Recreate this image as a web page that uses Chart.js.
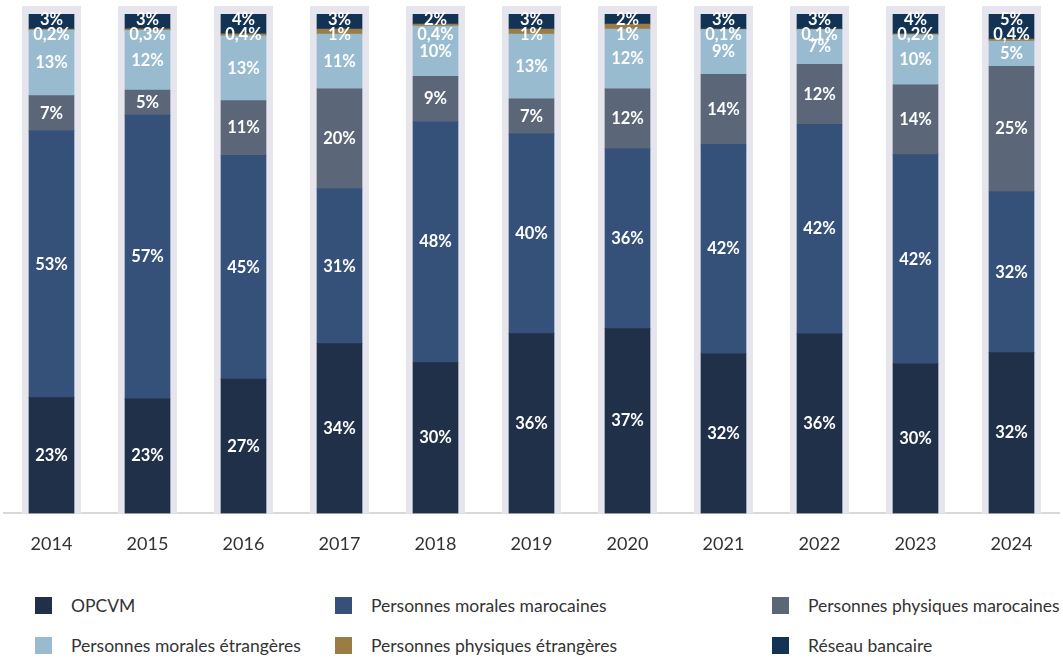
<!DOCTYPE html>
<html>
<head>
<meta charset="utf-8">
<script src="https://cdn.jsdelivr.net/npm/chart.js@4"></script>
<style>
body { margin: 0; background: #fff; font-family: Lato, sans-serif; }
#wrap { position: relative; width: 1063px; height: 660px; }
#chart-box { position: absolute; left: 0; top: 0; width: 1063px; height: 575px; }
#legend { position: absolute; left: 35px; top: 597px; display: grid; grid-template-columns: 300px 437px auto; row-gap: 23px; }
.item { display: flex; align-items: center; height: 17px; font-size: 17.5px; color: #333; white-space: nowrap; }
.item .box { width: 17px; height: 17px; margin-right: 19px; flex: none; }
</style>
</head>
<body>
<div id="wrap">
    <div id="chart-box"><canvas id="repartitionChart"></canvas></div>
    <div id="legend"></div>
</div>
<script>
const years = ['2014', '2015', '2016', '2017', '2018', '2019', '2020', '2021', '2022', '2023', '2024'];

const opcvm = [23, 23, 27, 34, 30, 36, 37, 32, 36, 30, 32];
const moralesMarocaines = [53, 57, 45, 31, 48, 40, 36, 42, 42, 42, 32];
const physiquesMarocaines = [7, 5, 11, 20, 9, 7, 12, 14, 12, 14, 25];
const moralesEtrangeres = [13, 12, 13, 11, 10, 13, 12, 9, 7, 10, 5];
const physiquesEtrangeres = [0.2, 0.3, 0.4, 1, 0.4, 1, 1, 0.1, 0.1, 0.2, 0.4];
const reseauBancaire = [3, 3, 4, 3, 2, 3, 2, 3, 3, 4, 5];

const seriesNames = [
    'OPCVM',
    'Personnes morales marocaines',
    'Personnes physiques marocaines',
    'Personnes morales étrangères',
    'Personnes physiques étrangères',
    'Réseau bancaire'
];
const seriesValues = [opcvm, moralesMarocaines, physiquesMarocaines, moralesEtrangeres, physiquesEtrangeres, reseauBancaire];
const seriesColors = ['#203048', '#35517a', '#5b6779', '#98bbd0', '#9b7c45', '#133355'];

// each year is shown as 100%, so scale the shares to their sum
const totals = years.map((_, i) => seriesValues.reduce((s, arr) => s + arr[i], 0));

function formatPct(v) {
    return String(v).replace('.', ',') + '%';
}

const datasets = seriesValues.map((values, k) => ({
    label: seriesNames[k],
    data: values.map((v, i) => v / totals[i] * 100),
    raw: values,
    labelPos: k === 4 ? 'under-top' : (k === 5 ? 'top' : 'middle'),
    backgroundColor: seriesColors[k],
    borderWidth: 0,
    barThickness: 45,
    stack: 'main'
}));

const columnBg = {
    id: 'columnBg',
    beforeDatasetsDraw(chart) {
        const { ctx, scales: { x, y } } = chart;
        const top = y.getPixelForValue(100) - 8;
        const bottom = y.getPixelForValue(0);
        ctx.save();
        ctx.fillStyle = '#e6e4ec';
        years.forEach((_, i) => {
            const cx = x.getPixelForValue(i);
            ctx.fillRect(cx - 29.5, top, 59, bottom - top);
        });
        ctx.restore();
    }
};

const segmentLabels = {
    id: 'segmentLabels',
    afterDatasetsDraw(chart) {
        const ctx = chart.ctx;
        const stackTop = chart.scales.y.getPixelForValue(100);
        ctx.save();
        ctx.font = 'bold 16.5px Lato';
        ctx.fillStyle = '#ffffff';
        ctx.textAlign = 'center';
        ctx.textBaseline = 'middle';
        chart.data.datasets.forEach((ds, i) => {
            const meta = chart.getDatasetMeta(i);
            meta.data.forEach((bar, j) => {
                const top = Math.min(bar.y, bar.base);
                const bottom = Math.max(bar.y, bar.base);
                let y = (top + bottom) / 2;
                if (ds.labelPos === 'top') {
                    y = top + 6;
                } else if (ds.labelPos === 'under-top') {
                    // tiny slice: label sits just under the top label
                    y = stackTop + 21;
                }
                ctx.fillText(formatPct(ds.raw[j]), bar.x, y);
            });
        });
        ctx.restore();
    }
};

function buildLegend() {
    const legend = document.getElementById('legend');
    legend.innerHTML = '';
    seriesNames.forEach((name, k) => {
        const item = document.createElement('div');
        item.className = 'item';
        const box = document.createElement('span');
        box.className = 'box';
        box.style.background = seriesColors[k];
        const text = document.createElement('span');
        text.textContent = name;
        item.appendChild(box);
        item.appendChild(text);
        legend.appendChild(item);
    });
}

const ctx = document.getElementById('repartitionChart').getContext('2d');
new Chart(ctx, {
    type: 'bar',
    data: {
        labels: years,
        datasets: datasets
    },
    options: {
        responsive: true,
        maintainAspectRatio: false,
        animation: false,
        layout: {
            padding: { top: 14, left: 3.5, right: 3.5, bottom: 0 }
        },
        plugins: {
            legend: { display: false },
            tooltip: { enabled: false }
        },
        scales: {
            x: {
                stacked: true,
                grid: { display: false, drawTicks: false },
                border: { display: true, color: '#d9d9d9', width: 2 },
                ticks: {
                    color: '#333333',
                    padding: 20,
                    font: { family: 'Lato', size: 18 }
                }
            },
            y: {
                stacked: true,
                display: false,
                min: 0,
                max: 100
            }
        }
    },
    plugins: [columnBg, segmentLabels]
});

buildLegend();
</script>
</body>
</html>
